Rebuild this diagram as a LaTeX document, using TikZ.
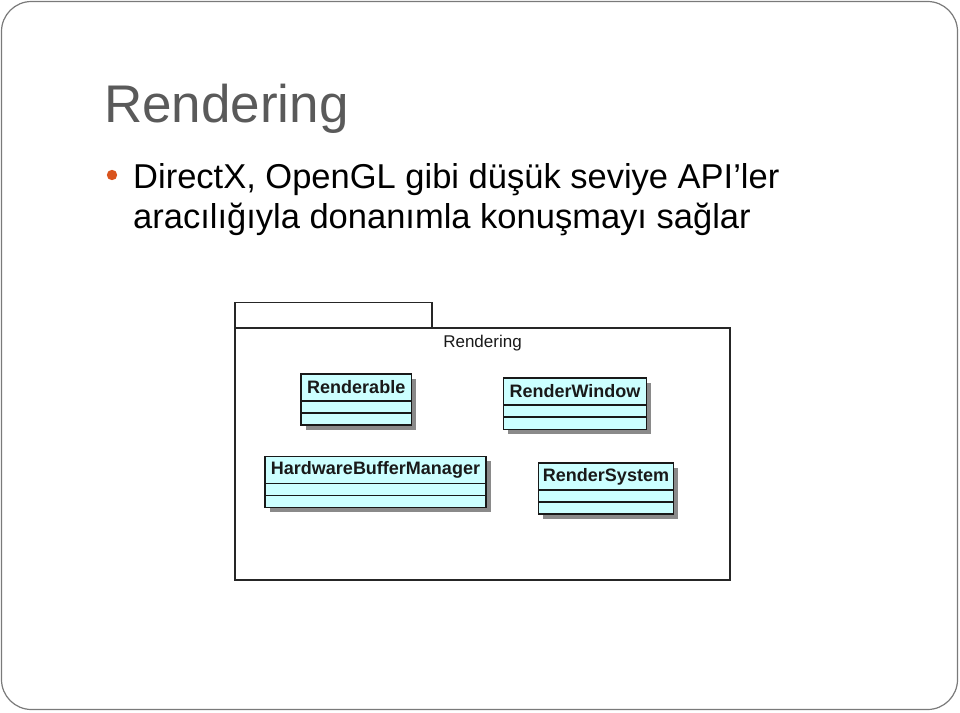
\documentclass[tikz,border=0pt]{standalone}
\usepackage{fontspec}
\setmainfont{Liberation Sans}
\definecolor{titlegray}{HTML}{5A5A5A}
\definecolor{framegray}{HTML}{7A7A7A}
\definecolor{bulletorange}{HTML}{D9541E}
\definecolor{clscyan}{HTML}{CCFFFF}
\definecolor{shadowgray}{HTML}{8A8A8A}
\tikzset{
  slidetitle/.style={anchor=base west, inner sep=0pt, text=titlegray, font=\fontsize{53}{60}\selectfont},
  slidetext/.style={anchor=base west, inner sep=0pt, text=black, font=\fontsize{34.5}{40}\selectfont},
  pkgline/.style={draw=black!85, line width=1.2pt},
  clsbox/.style={draw=black!90, fill=clscyan, line width=1.3pt},
  clsline/.style={draw=black!90, line width=1.3pt},
  clsname/.style={inner sep=0pt, text=black!90, font=\bfseries\fontsize{18}{20}\selectfont},
  pkgname/.style={inner sep=0pt, text=black!90, font=\fontsize{17}{19}\selectfont}
}
\newcommand\umlcls[8]{%
  \fill[shadowgray] (#2+4.5,#3+4.5) rectangle (#4+4.5,#5+4.5);
  \draw[clsbox] (#2,#3) rectangle (#4,#5);
  \draw[clsline] (#2,#6) -- (#4,#6) (#2,#7) -- (#4,#7);
  \node[clsname] (#1) at ({(#2+#4)/2},{(#3+#6)/2}) {#8};
}
\begin{document}
\begin{tikzpicture}[x=1pt,y=-1pt]
\useasboundingbox (0,0) rectangle (960,712);
% slide frame
\draw[framegray, line width=1.2pt, rounded corners=30pt] (1.5,1.5) rectangle (957.5,709.5);
% title and bullet
\node[slidetitle] (title) at (104,122) {Rendering};
\fill[bulletorange] (112,175) circle (5.2);
\node[slidetext] (line1) at (133,188) {DirectX, OpenGL gibi düşük seviye API’ler};
\node[slidetext] (line2) at (133,228) {aracılığıyla donanımla konuşmayı sağlar};
% package
\draw[pkgline, fill=white] (235,302.5) rectangle (432,328);
\draw[pkgline, fill=white] (235,328) rectangle (730,580);
\node[pkgname] (pkg) at (482.5,343) {Rendering};
% classes
\umlcls{renderable}{301}{374}{411.5}{425}{401}{413}{Renderable}
\umlcls{renderwindow}{503.5}{378}{646.5}{429.5}{405}{417}{RenderWindow}
\umlcls{hbm}{265}{456.5}{486}{507.5}{483.5}{495.5}{HardwareBufferManager}
\umlcls{rendersystem}{538.5}{463}{673.5}{514}{490}{502}{RenderSystem}
\end{tikzpicture}
\end{document}
